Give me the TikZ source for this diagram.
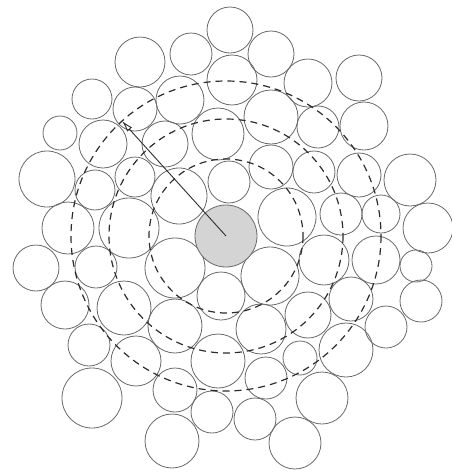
\documentclass[tikz,border=0pt]{standalone}
\usepackage{tikz}
\usetikzlibrary{arrows.meta}
\definecolor{discline}{RGB}{105,105,105}
\definecolor{shellline}{RGB}{45,45,45}
\definecolor{corefill}{RGB}{212,212,212}
\tikzset{
  disc/.style={draw=discline, line width=0.8pt},
  core/.style={draw=discline, fill=corefill, line width=0.8pt},
  shell/.style={draw=shellline, line width=1.2pt, dash pattern=on 7pt off 5pt},
  radarr/.style={-{Latex[open, length=4mm, width=2.2mm]}, shellline, line width=0.9pt},
}
\begin{document}
\begin{tikzpicture}[x=1pt, y=-1pt]
    \useasboundingbox (0,0) rectangle (452,472);
    % packed discs, top to bottom
    \draw[disc] (230,30) circle (23); \draw[disc] (191,54) circle (21); \draw[disc] (140,62) circle (25);
    \draw[disc] (271,54) circle (23); \draw[disc] (308,83) circle (24); \draw[disc] (359,78) circle (23);
    \draw[disc] (232,80) circle (25); \draw[disc] (180,100) circle (24); \draw[disc] (92,99) circle (20);
    \draw[disc] (135,109) circle (22); \draw[disc] (271,117) circle (27); \draw[disc] (318,127) circle (21);
    \draw[disc] (364,126) circle (24); \draw[disc] (218,134) circle (26); \draw[disc] (60,133) circle (17);
    \draw[disc] (103,144) circle (24); \draw[disc] (165,144) circle (23); \draw[disc] (47,179) circle (28);
    \draw[disc] (95,190) circle (20); \draw[disc] (135,177) circle (20); \draw[disc] (179,196) circle (28);
    \draw[disc] (229,182) circle (21); \draw[disc] (271,167) circle (22); \draw[disc] (314,172) circle (21);
    \draw[disc] (359,175) circle (22); \draw[disc] (410,180) circle (26); \draw[disc] (68,228) circle (26);
    \draw[disc] (129,228) circle (30); \draw[disc] (287,217) circle (29); \draw[disc] (341,214) circle (21);
    \draw[disc] (381,214) circle (19); \draw[disc] (428,228) circle (25); \draw[disc] (36,268) circle (23);
    \draw[disc] (96,267) circle (21); \draw[disc] (175,268) circle (30); \draw[disc] (221,296) circle (24);
    \draw[disc] (270,276) circle (29); \draw[disc] (324,260) circle (25); \draw[disc] (376,260) circle (24);
    \draw[disc] (416,266) circle (16); \draw[disc] (65,305) circle (24); \draw[disc] (124,308) circle (27);
    \draw[disc] (175,326) circle (27); \draw[disc] (261,329) circle (25); \draw[disc] (308,315) circle (23);
    \draw[disc] (351,299) circle (22); \draw[disc] (421,301) circle (21); \draw[disc] (386,327) circle (21);
    \draw[disc] (89,345) circle (21); \draw[disc] (136,361) circle (25); \draw[disc] (218,361) circle (27);
    \draw[disc] (300,358) circle (17); \draw[disc] (346,350) circle (27); \draw[disc] (175,390) circle (22);
    \draw[disc] (266,378) circle (21); \draw[disc] (92,398) circle (30); \draw[disc] (212,412) circle (21);
    \draw[disc] (255,419) circle (21); \draw[disc] (322,398) circle (26); \draw[disc] (172,441) circle (27);
    \draw[disc] (295,443) circle (26);
    % central disc and shells
    \coordinate (ctr) at (226,236); \coordinate (tip) at (122,121);
    \draw[core] (ctr) circle (31);
    \draw[shell] (ctr) circle (77); \draw[shell] (ctr) circle (117); \draw[shell] (ctr) circle (155);
    \draw[radarr] (ctr) -- (tip);
  \end{tikzpicture}
\end{document}
